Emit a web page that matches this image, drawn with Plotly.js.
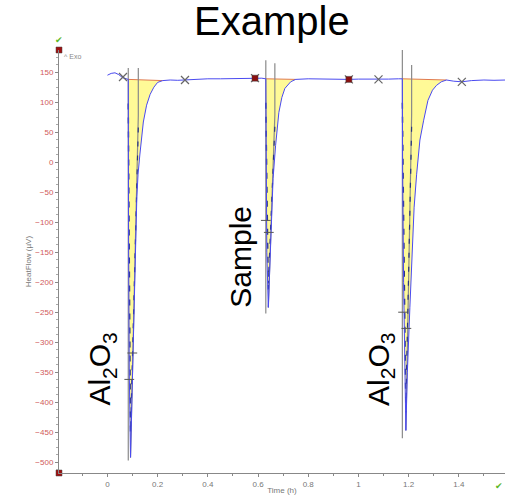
<!DOCTYPE html>
<html>
<head>
<meta charset="utf-8">
<script src="https://cdn.plot.ly/plotly-3.0.1.min.js"></script>
<style>html,body{margin:0;padding:0;background:#fff;}#chart{width:513px;height:495px;}</style>
</head>
<body>
<div id="chart"></div>
<script>
// ---- data ----
const timeH = [0.0, 0.015, 0.03, 0.045, 0.06, 0.075, 0.083, 0.084, 0.087, 0.092, 0.098, 0.103, 0.110, 0.117, 0.122, 0.129, 0.136, 0.143, 0.156, 0.17, 0.185, 0.2, 0.22, 0.25, 0.28, 0.31, 0.34, 0.37, 0.4, 0.45, 0.5, 0.55, 0.588, 0.615, 0.631, 0.632, 0.635, 0.641, 0.645, 0.65, 0.654, 0.66, 0.67, 0.683, 0.695, 0.707, 0.73, 0.75, 0.8, 0.85, 0.9, 0.962, 1.0, 1.05, 1.08, 1.12, 1.16, 1.175, 1.176, 1.18, 1.189, 1.195, 1.205, 1.214, 1.222, 1.232, 1.245, 1.26, 1.277, 1.295, 1.311, 1.33, 1.351, 1.38, 1.412, 1.45, 1.5, 1.54, 1.59];
const heatFlow = [145, 148, 149, 146, 141, 139, 138, -100, -350, -492, -400, -313, -180, -60, -20, 12, 40, 67, 95, 113, 125, 133, 136, 137, 136.5, 137, 138.5, 138, 139, 139, 139.5, 140, 140, 140, 139, 0, -150, -242, -193, -138, -83, -27, 28, 83, 108, 123, 134, 138, 139, 138.5, 139, 138, 138.5, 138, 138, 138.5, 139, 139, 0, -200, -447, -350, -242, -150, -75, -20, 37, 70, 103, 120, 128, 134, 137, 135, 134, 136, 137, 136.5, 137];

const peakStart = [0.083, 0.631, 1.175];
const peakEnd = [0.22, 0.75, 1.351];
const peakTip = [0.092, 0.641, 1.189];
const peakMin = [-492, -242, -447];
const rightLimit = [0.123, 0.667, 1.212];
const leftLimitTop = [157, 170, 187];
const leftLimitBottom = [-497, -252, -460];
const rightLimitTop = [157, 165, 162];

const crossT = [0.062, 0.309, 0.588, 0.962, 1.08, 1.412];
const crossV = [142, 137, 140, 138, 138, 134];
const squareT = [0.588, 0.962];
const squareV = [140, 138];
const plusT = [0.099, 0.087, 0.631, 0.643, 1.178, 1.191];
const plusV = [-318, -362, -97, -117, -250, -277];

const labels = ['Al<sub>2</sub>O<sub>3</sub>', 'Sample', 'Al<sub>2</sub>O<sub>3</sub>'];
const labelT = [-0.024, 0.527, 1.085];
const labelV = [-345, -158, -345];

const xRange = [-0.193, 1.584];
const yRange = [-518, 187];

// ---- traces ----
const traces = [];
for (let p = 0; p < peakStart.length; p++) {
  const fx = [], fy = [];
  for (let i = 0; i < timeH.length; i++) {
    if (timeH[i] >= peakStart[p] && timeH[i] <= peakEnd[p]) { fx.push(timeH[i]); fy.push(heatFlow[i]); }
  }
  const bx = [fx[fx.length - 1], fx[0]];
  const by = [fy[fy.length - 1], fy[0]];
  traces.push({x: fx.concat(bx), y: fy.concat(by), mode: 'none', fill: 'toself',
    fillcolor: 'rgba(255,250,140,0.9)', hoverinfo: 'skip', showlegend: false});
  traces.push({x: bx, y: by, mode: 'lines', line: {color: '#e07a50', width: 1}, hoverinfo: 'skip', showlegend: false});
  // integration limits
  traces.push({x: [peakStart[p], peakStart[p]], y: [leftLimitTop[p], leftLimitBottom[p]], mode: 'lines',
    line: {color: '#8a8a8a', width: 1.2}, showlegend: false, hoverinfo: 'skip'});
  traces.push({x: [rightLimit[p], rightLimit[p], peakTip[p]], y: [rightLimitTop[p], by[1] - 60, peakMin[p]], mode: 'lines',
    line: {color: '#8a8a8a', width: 1.2}, showlegend: false, hoverinfo: 'skip'});
  traces.push({x: [peakStart[p], peakTip[p]], y: [by[1] - 40, peakMin[p] + 30], mode: 'lines',
    line: {color: '#2a3580', width: 1.4, dash: '6px,8px'}, showlegend: false, hoverinfo: 'skip'});
  traces.push({x: [rightLimit[p], peakTip[p]], y: [by[1] - 80, peakMin[p] + 40], mode: 'lines',
    line: {color: '#2a3580', width: 1.2, dash: '5px,9px'}, showlegend: false, hoverinfo: 'skip'});
}
traces.push({x: timeH, y: heatFlow, mode: 'lines', line: {color: '#4a4af0', width: 1}, showlegend: false});
traces.push({x: crossT, y: crossV, mode: 'markers', marker: {symbol: 'x-thin', size: 8, line: {color: '#666', width: 1.2}}, showlegend: false});
traces.push({x: squareT, y: squareV, mode: 'markers', marker: {symbol: 'square', size: 6, color: '#8b1010', line: {color: '#444', width: 0.5}}, showlegend: false});
traces.push({x: plusT, y: plusV, mode: 'markers', marker: {symbol: 'line-ew', size: 7, line: {color: '#555', width: 1}}, showlegend: false});
traces.push({x: [xRange[0], xRange[0]], y: [yRange[0], yRange[1]], mode: 'markers', cliponaxis: false,
  marker: {symbol: 'square', size: 6, color: '#a01010', line: {color: '#444', width: 0.5}}, showlegend: false, hoverinfo: 'skip'});

const annotations = labels.map((t, i) => ({
  x: labelT[i], y: labelV[i], xref: 'x', yref: 'y', text: t, showarrow: false, textangle: -90,
  font: {family: 'Liberation Sans, Arial, sans-serif', size: 30, color: '#000'}
}));
annotations.push({xref: 'paper', yref: 'paper', x: 0, y: 1, xanchor: 'center', yanchor: 'bottom', yshift: 2,
  text: '✔', showarrow: false, font: {size: 9, color: '#5cb82a'}});
annotations.push({xref: 'paper', yref: 'paper', x: 1, y: 0, xanchor: 'center', yanchor: 'top', xshift: -6, yshift: -4,
  text: '✔', showarrow: false, font: {size: 9, color: '#5cb82a'}});
annotations.push({xref: 'paper', yref: 'paper', x: 0, y: 1, xanchor: 'left', yanchor: 'top', xshift: 3, yshift: -1,
  text: '^ Exo', showarrow: false, font: {family: 'Liberation Sans, Arial, sans-serif', size: 7, color: '#888'}});

const layout = {
  width: 513, height: 495,
  margin: {l: 59, r: 8, t: 50, b: 22},
  paper_bgcolor: '#fff', plot_bgcolor: '#fff',
  title: {text: 'Example', x: 0.53, xanchor: 'center', y: 0.985, yanchor: 'top',
    font: {family: 'Liberation Sans, Arial, sans-serif', size: 40, color: '#000'}},
  xaxis: {range: xRange, showgrid: false, zeroline: false, showline: true, linecolor: '#888', linewidth: 1,
    tickmode: 'linear', tick0: 0, dtick: 0.2, ticks: 'outside', ticklen: 3, tickcolor: '#888',
    minor: {dtick: 0.1, ticks: 'outside', ticklen: 2, tickcolor: '#888'},
    tickfont: {family: 'Liberation Sans, Arial, sans-serif', size: 8, color: '#777'},
    title: {text: 'Time (h)', standoff: 0, font: {family: 'Liberation Sans, Arial, sans-serif', size: 8, color: '#777'}}},
  yaxis: {range: yRange, showgrid: false, zeroline: false, showline: true, linecolor: '#888', linewidth: 1,
    tickmode: 'linear', tick0: 0, dtick: 50, ticks: 'outside', ticklen: 3, tickcolor: '#888',
    minor: {dtick: 12.5, ticks: 'outside', ticklen: 2, tickcolor: '#aaa'},
    tickfont: {family: 'Liberation Sans, Arial, sans-serif', size: 8, color: '#d05a5a'},
    title: {text: 'HeatFlow (µV)', standoff: 2, font: {family: 'Liberation Sans, Arial, sans-serif', size: 8, color: '#777'}}},
  annotations: annotations,
  showlegend: false
};

Plotly.newPlot('chart', traces, layout, {displayModeBar: false, staticPlot: true});
</script>
</body>
</html>
